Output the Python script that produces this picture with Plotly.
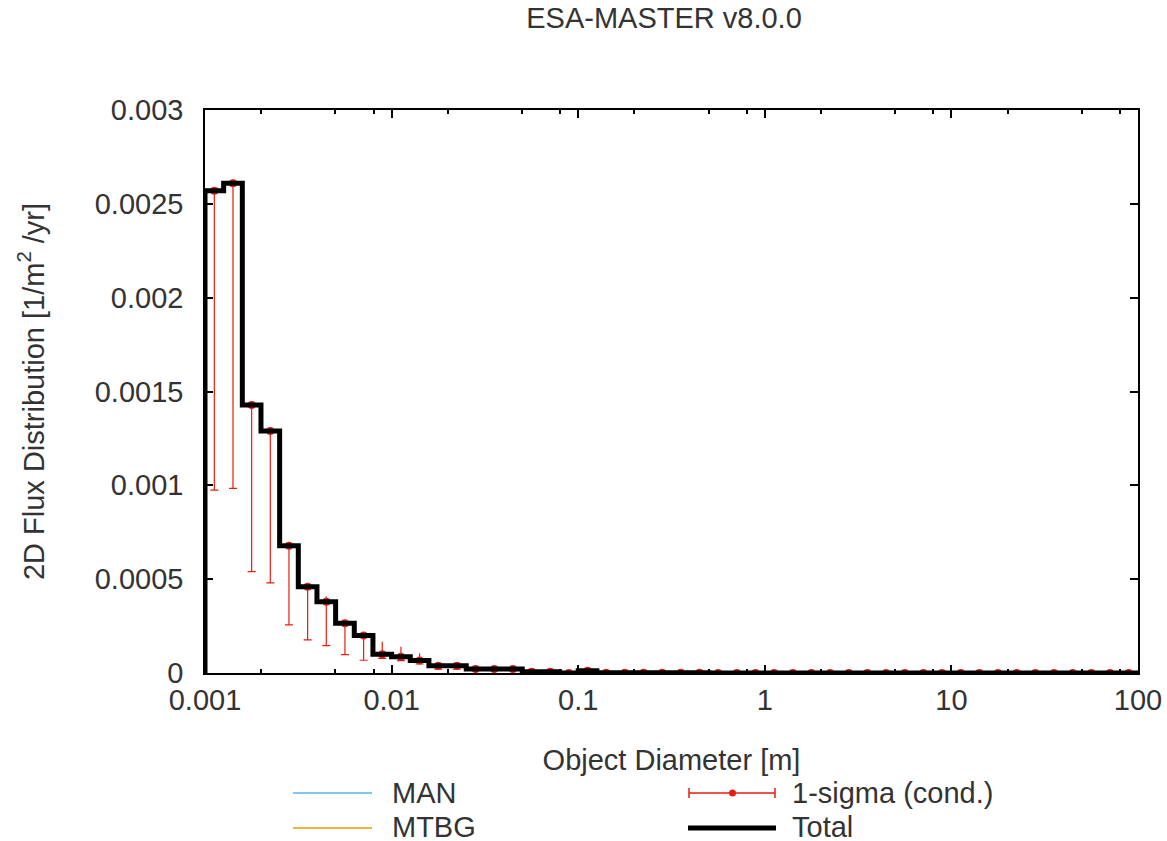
import plotly.graph_objects as go

# ---------------- data ----------------
decade_min = -3          # 0.001 m
bins_per_decade = 10
n_bins = 50              # 0.001 .. 100 m

total = [0.00257, 0.00261, 0.001428, 0.00129, 0.000678, 0.00046, 0.00038, 0.000265, 0.0002, 0.0001,
         0.000087, 0.000066, 0.000039, 0.000039, 0.000021, 0.000021, 0.000021, 0.000007, 0.000007, 0.0000005,
         0.000012, 0.000001, 0.000001, 0.000001, 0.000001, 0.0000008, 0.0000008, 0.0000006, 0.0000006, 0.0000005,
         0.0000005, 0.0000004, 0.0000004, 0.0000003, 0.0000003, 0.0000002, 0.0000002, 0.0000002, 0.0000001, 0.0000001,
         0.0000001, 0.0000001, 0.0, 0.0, 0.0, 0.0, 0.0, 0.0, 0.0, 0.0]

sigma_low = [0.000975, 0.000984, 0.00054, 0.00048, 0.000256, 0.000176, 0.000146, 0.0000977, 0.000068, 0.000078,
             0.000066, 0.000048, 0.00002, 0.00002, 0.000015, 0.000015, 0.000015, 0.000003, 0.000003, 0.0,
             0.000006] + [0.0] * 29

sigma_high = [0.00259, 0.002627, 0.00145, 0.00131, 0.0007, 0.00048, 0.000407, 0.000282, 0.000215, 0.000167,
              0.00014, 0.000105, 0.000057, 0.000057, 0.00003, 0.00003, 0.00003, 0.000012, 0.000012, 0.000002,
              0.000016] + [0.000002] * 29

# MAN / MTBG contributions are not distinguishable in the picture (hidden)
man = [0.0] * 50
mtbg = [0.0] * 50

x_tick_vals = [0.001, 0.01, 0.1, 1, 10, 100]
x_tick_text = ["0.001", "0.01", "0.1", "1", "10", "100"]
y_tick_vals = [0, 0.0005, 0.001, 0.0015, 0.002, 0.0025, 0.003]
y_tick_text = ["0", "0.0005", "0.001", "0.0015", "0.002", "0.0025", "0.003"]
minor_mult = [2, 5, 8]

# ---------------- derived ----------------
edges = [10 ** (decade_min + k / bins_per_decade) for k in range(n_bins + 1)]
centers = [10 ** (decade_min + (k + 0.5) / bins_per_decade) for k in range(n_bins)]
err_plus = [max(h - v, 0) for h, v in zip(sigma_high, total)]
err_minus = [max(v - l, 0) for l, v in zip(sigma_low, total)]
zeros = [0.0] * n_bins
minor_vals = [m * d for d in x_tick_vals[:-1] for m in minor_mult]

FONT = "Liberation Sans, Arial, sans-serif"
TXT = "#333333"
FS = 29
RED = "#e51e10"

fig = go.Figure()

fig.add_trace(go.Scatter(x=edges, y=[0] + man, mode="lines", line=dict(shape="hv", color="#56b4e9", width=1.5),
                         name="MAN", visible="legendonly", showlegend=False))
fig.add_trace(go.Scatter(x=edges, y=[0] + mtbg, mode="lines", line=dict(shape="hv", color="#e69f00", width=1.5),
                         name="MTBG", visible="legendonly", showlegend=False))

# 1-sigma error bars: lower part with caps, upper part plain
fig.add_trace(go.Scatter(
    x=centers, y=total, mode="markers", name="1-sigma (cond.)", showlegend=False,
    marker=dict(color=RED, size=8),
    error_y=dict(type="data", symmetric=False, array=zeros, arrayminus=err_minus,
                 color=RED, thickness=1.2, width=4),
))
fig.add_trace(go.Scatter(
    x=centers, y=total, mode="markers", name="1-sigma (cond.) upper", showlegend=False,
    marker=dict(color=RED, size=1, opacity=0),
    error_y=dict(type="data", symmetric=False, array=err_plus, arrayminus=zeros,
                 color=RED, thickness=1.2, width=0),
))

# Total step line
fig.add_trace(go.Scatter(
    x=[edges[0]] + edges, y=[0] + total + [total[-1]], mode="lines", name="Total", showlegend=False,
    line=dict(shape="hv", color="black", width=5),
))

# ---------------- layout ----------------
L, R, T, B = 205, 1138, 110, 673
W_, H_ = R - L, B - T


def px(x):
    return (x - L) / W_


def py(y):
    return (B - y) / H_


shapes = []
annotations = []
shapes.append(dict(type="line", xref="paper", yref="paper", x0=px(293), x1=px(372), y0=py(793), y1=py(793),
                   line=dict(color="#56b4e9", width=1.5)))
shapes.append(dict(type="line", xref="paper", yref="paper", x0=px(293), x1=px(372), y0=py(828), y1=py(828),
                   line=dict(color="#e69f00", width=1.5)))
shapes.append(dict(type="line", xref="paper", yref="paper", x0=px(689), x1=px(775), y0=py(793), y1=py(793),
                   line=dict(color=RED, width=1.5)))
for xc in (689, 775):
    shapes.append(dict(type="line", xref="paper", yref="paper", x0=px(xc), x1=px(xc), y0=py(788), y1=py(798),
                       line=dict(color=RED, width=1.5)))
shapes.append(dict(type="circle", xref="paper", yref="paper", x0=px(729), x1=px(736), y0=py(789.5), y1=py(796.5),
                   fillcolor=RED, line=dict(color=RED, width=0)))
shapes.append(dict(type="line", xref="paper", yref="paper", x0=px(688), x1=px(776), y0=py(828), y1=py(828),
                   line=dict(color="black", width=5)))

for text, xx, yy in [("MAN", 390, 793), ("MTBG", 390, 827), ("1-sigma (cond.)", 790, 793), ("Total", 790, 827)]:
    annotations.append(dict(text=text, xref="paper", yref="paper", x=px(xx), y=py(yy), xanchor="left",
                            yanchor="middle", showarrow=False, font=dict(family=FONT, size=FS, color=TXT)))

fig.update_layout(
    width=1167, height=841,
    margin=dict(l=L, r=1167 - R, t=T, b=841 - B, autoexpand=False),
    paper_bgcolor="white", plot_bgcolor="white",
    font=dict(family=FONT, size=FS, color=TXT),
    title=dict(text="ESA-MASTER v8.0.0", x=px(664), xref="paper", y=1 - 18 / 841, yref="container",
               xanchor="center", yanchor="middle", font=dict(family=FONT, size=FS, color=TXT)),
    showlegend=False,
    shapes=shapes,
    annotations=annotations,
    xaxis=dict(
        type="log", range=[-3, 2], showgrid=False, zeroline=False,
        showline=True, linecolor="black", linewidth=1.5, mirror="allticks", layer="above traces",
        ticks="inside", ticklen=8, tickwidth=1.5, tickcolor="black",
        tickmode="array", tickvals=x_tick_vals, ticktext=x_tick_text,
        minor=dict(tickmode="array", tickvals=minor_vals, ticks="inside", ticklen=4, tickwidth=1.5,
                   tickcolor="black", showgrid=False),
        tickfont=dict(family=FONT, size=FS, color=TXT),
        title=dict(text="Object Diameter [m]", standoff=35, font=dict(family=FONT, size=FS, color=TXT)),
    ),
    yaxis=dict(
        range=[0, 0.003], showgrid=False, zeroline=False,
        showline=True, linecolor="black", linewidth=1.5, mirror="allticks", layer="above traces",
        ticks="inside", ticklen=8, tickwidth=1.5, tickcolor="black",
        tickmode="array", tickvals=y_tick_vals, ticktext=y_tick_text,
        tickfont=dict(family=FONT, size=FS, color=TXT),
        ticklabelstandoff=14,
        title=dict(text="2D Flux Distribution [1/m<sup>2</sup> /yr]", standoff=42,
                   font=dict(family=FONT, size=FS, color=TXT)),
    ),
)

fig.write_html("out.html")
